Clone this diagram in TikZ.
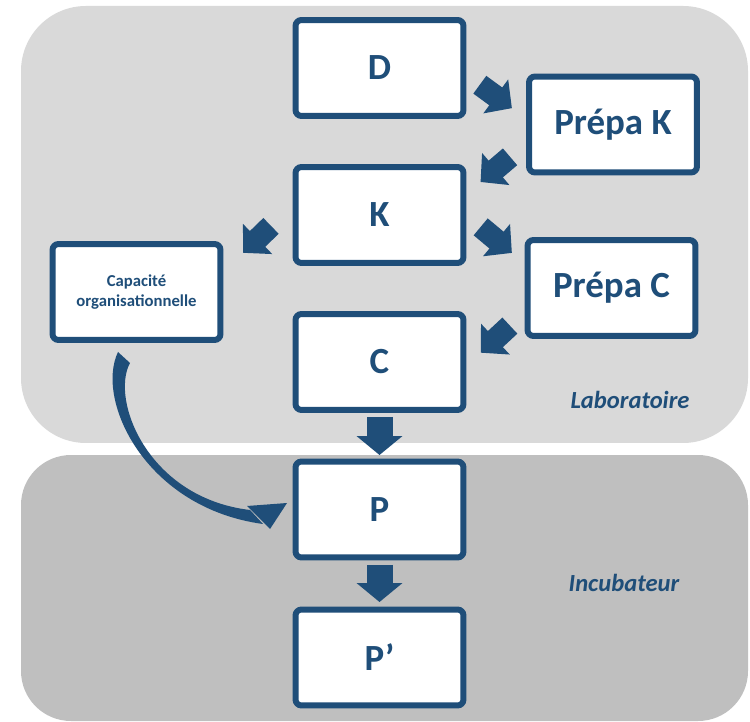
\documentclass[tikz,border=0pt]{standalone}
\usepackage{fontspec}
\setmainfont{Carlito}
\usetikzlibrary{arrows.meta,calc}
\definecolor{boxblue}{RGB}{31,78,121}
\definecolor{labgray}{RGB}{217,217,217}
\definecolor{incgray}{RGB}{191,191,191}

\begin{document}
\begin{tikzpicture}[x=0.02cm, y=-0.02cm]

\tikzset{%
every box/.style={
rectangle,
rounded corners=0.12cm,
draw=boxblue,
line width=0.12cm,
fill=white,
minimum width=3.36cm,
minimum height=1.92cm,
inner sep=0pt,
text=boxblue,
font=\fontsize{21}{25}\selectfont\bfseries
},
small box/.style={
font=\fontsize{9.5}{11.5}\selectfont\bfseries,
align=center
},
zone label/.style={
text=boxblue,
font=\fontsize{14}{16}\selectfont\bfseries\itshape
},
diag arrow/.style={boxblue, line width=0.44cm, -{Triangle[width=0.82cm,length=0.4cm]}},
down arrow/.style={boxblue, line width=0.52cm, -{Triangle[width=0.9cm,length=0.38cm]}},
}

\useasboundingbox (0,0) rectangle (750,722);

% Laboratoire and Incubateur zones
\fill [labgray, rounded corners=1.3cm] (21,6) rectangle (748,443);
\fill [incgray, rounded corners=1cm] (21,455) rectangle (748,721);

% Central column boxes
\foreach \n/\lbl/\y in {D/D/68, K/K/215, C/C/362, P/P/509.5, Pp/P’/657.5}
\node [every box] (\n) at (379.5,\y) {\lbl};

% Side boxes
\node [every box] (prepaK) at (613,124.5) {Prépa K};
\node [every box] (prepaC) at (611.5,288) {Prépa C};
\node [every box, small box] (capa) at (136.5,292) {Capacité\\organisationnelle};

% Zone labels
\node [zone label] (lab) at (630,400) {Laboratoire};
\node [zone label] (inc) at (624,583) {Incubateur};

% Diagonal arrows
\draw [diag arrow, shorten <=0.33cm, shorten >=0.35cm] ($(D.east)+(0,7)$) -- ($(prepaK.west)+(0,-6)$);
\draw [diag arrow, shorten <=0.42cm, shorten >=0.37cm] ($(prepaK.west)+(0,18.7)$) -- ($(K.east)+(0,-21)$);
\draw [diag arrow, shorten <=0.6cm, shorten >=0.55cm] ($(K.west)+(0,-10)$) -- ($(capa.east)+(0,-20)$);
\draw [diag arrow, shorten <=0.37cm, shorten >=0.33cm] (K.east) -- ($(prepaC.west)+(0,-24.5)$);
\draw [diag arrow, shorten <=0.4cm, shorten >=0.39cm] ($(prepaC.west)+(0,24)$) -- ($(C.east)+(0,4)$);

% Down arrows
\draw [down arrow, shorten <=0.08cm, shorten >=0.07cm] (C.south) -- (P.north);
\draw [down arrow, shorten <=0.09cm, shorten >=0.09cm] (P.south) -- (Pp.north);

% Curved arrow from capacite to P
\fill [boxblue] ($(capa.south)+(-18.5,9)$) .. controls +(-23,48) and +(-118,-16) .. ($(P.west)+(-29.5,14.5)$)
-- ($(P.west)+(-42.5,0.5)$) .. controls +(-102,-12) and +(-20,37) .. ($(capa.south)+(-6.5,20)$) -- cycle;
\fill [boxblue] ($(P.west)+(-45.5,-3.5)$) -- ($(P.west)+(-5.5,-6.5)$) -- ($(P.west)+(-22.5,19.5)$) -- cycle;

\end{tikzpicture}
\end{document}
